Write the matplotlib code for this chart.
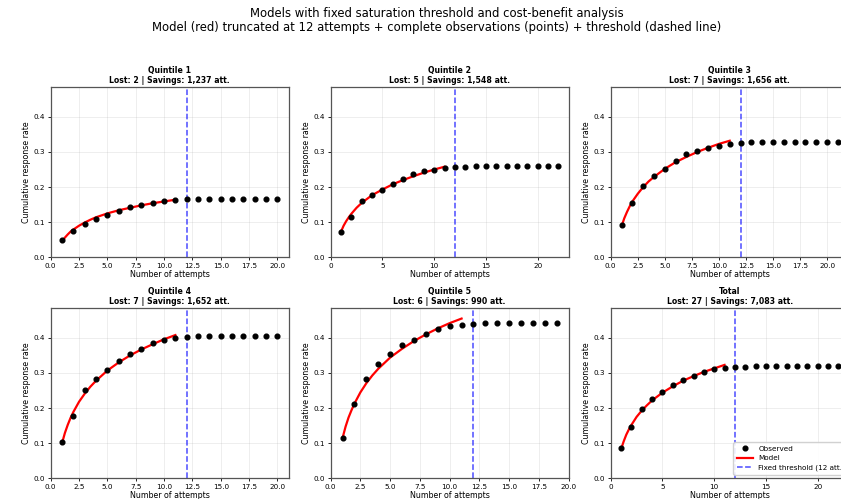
import matplotlib
matplotlib.use("Agg")
import matplotlib.pyplot as plt

# panel titles / cost-benefit info
panel_names = ['Quintile 1', 'Quintile 2', 'Quintile 3', 'Quintile 4', 'Quintile 5', 'Total']
lost = [2, 5, 7, 7, 6, 27]
savings = ['1,237', '1,548', '1,656', '1,652', '990', '7,083']

# observed cumulative response rate (attempt 1..n)
obs_q1 = [0.048, 0.075, 0.094, 0.109, 0.120, 0.133, 0.143, 0.149, 0.155, 0.161, 0.163,
          0.165, 0.165, 0.165, 0.165, 0.165, 0.165, 0.165, 0.165, 0.165]
obs_q2 = [0.072, 0.115, 0.159, 0.178, 0.193, 0.210, 0.223, 0.236, 0.245, 0.250, 0.255,
          0.257, 0.258, 0.259, 0.259, 0.259, 0.259, 0.259, 0.259, 0.259, 0.259, 0.259]
obs_q3 = [0.091, 0.154, 0.203, 0.231, 0.252, 0.275, 0.293, 0.303, 0.312, 0.318, 0.323,
          0.325, 0.327, 0.329, 0.329, 0.329, 0.329, 0.329, 0.329, 0.329, 0.329]
obs_q4 = [0.104, 0.178, 0.251, 0.283, 0.309, 0.335, 0.353, 0.367, 0.384, 0.395, 0.401,
          0.402, 0.405, 0.405, 0.405, 0.405, 0.405, 0.405, 0.405, 0.405]
obs_q5 = [0.115, 0.211, 0.283, 0.326, 0.355, 0.379, 0.395, 0.411, 0.425, 0.434, 0.438,
          0.440, 0.441, 0.443, 0.443, 0.443, 0.443, 0.443, 0.443]
obs_tot = [0.085, 0.146, 0.198, 0.226, 0.245, 0.266, 0.281, 0.292, 0.304, 0.311, 0.315,
           0.317, 0.318, 0.320, 0.320, 0.320, 0.320, 0.320, 0.320, 0.320, 0.320, 0.320]

# model curve (truncated before the threshold)
model_x = [1, 1.25, 1.5, 1.75, 2, 2.5, 3, 3.5, 4, 5, 6, 7, 8, 9, 10, 11]
mod_q1 = [0.045, 0.056, 0.065, 0.073, 0.079, 0.090, 0.099, 0.107, 0.114, 0.125, 0.134,
          0.141, 0.148, 0.154, 0.159, 0.164]
mod_q2 = [0.073, 0.090, 0.103, 0.114, 0.124, 0.141, 0.155, 0.166, 0.177, 0.193, 0.208,
          0.220, 0.231, 0.241, 0.250, 0.258]
mod_q3 = [0.088, 0.111, 0.129, 0.145, 0.159, 0.181, 0.200, 0.216, 0.229, 0.252, 0.271,
          0.286, 0.300, 0.312, 0.323, 0.332]
mod_q4 = [0.100, 0.129, 0.152, 0.172, 0.189, 0.218, 0.241, 0.261, 0.278, 0.307, 0.330,
          0.350, 0.367, 0.382, 0.396, 0.408]
mod_q5 = [0.115, 0.147, 0.173, 0.194, 0.213, 0.245, 0.271, 0.293, 0.312, 0.344, 0.369,
          0.391, 0.410, 0.427, 0.442, 0.455]
mod_tot = [0.083, 0.105, 0.124, 0.139, 0.152, 0.175, 0.193, 0.208, 0.222, 0.244, 0.262,
           0.278, 0.291, 0.303, 0.313, 0.323]

observed = [obs_q1, obs_q2, obs_q3, obs_q4, obs_q5, obs_tot]
models = [mod_q1, mod_q2, mod_q3, mod_q4, mod_q5, mod_tot]
threshold = 12

fig = plt.figure(figsize=(8.41, 4.99), dpi=100)

lefts = [0.0603, 0.3932, 0.7262]
bottoms = [0.4844, 0.0415]
w, h = 0.283, 0.3419

for i in range(6):
    ax = fig.add_axes([lefts[i % 3], bottoms[i // 3], w, h])
    obs = observed[i]
    xs = list(range(1, len(obs) + 1))
    ax.plot(xs, obs, 'o', color='black', ms=3.4, label='Observed', zorder=3)
    ax.plot(model_x, models[i], color='red', lw=1.6, label='Model', zorder=2)
    ax.axvline(threshold, color='blue', ls='--', lw=1.1, alpha=0.7,
               label='Fixed threshold (12 att.)')
    ax.set_xlim(0, len(obs) + 1)
    ax.set_ylim(0, 0.486)
    ax.set_yticks([0.0, 0.1, 0.2, 0.3, 0.4])
    ax.grid(True, alpha=0.25, lw=0.6)
    ax.tick_params(labelsize=5.2, length=2.5, width=0.6, pad=1.5)
    for s in ax.spines.values():
        s.set_color('#555555')
        s.set_linewidth(0.9)
    ax.set_xlabel('Number of attempts', fontsize=5.7, labelpad=1)
    ax.set_ylabel('Cumulative response rate', fontsize=5.7, labelpad=2)
    ax.set_title(f'{panel_names[i]}\nLost: {lost[i]} | Savings: {savings[i]} att.',
                 fontsize=5.6, fontweight='bold', pad=3, linespacing=1.05)
    if i == 5:
        ax.legend(loc='lower right', bbox_to_anchor=(1.015, 0.0), fontsize=5.2,
                  framealpha=0.9, handlelength=2.2, borderpad=0.5, labelspacing=0.45)

fig.text(0.519, 0.985, 'Models with fixed saturation threshold and cost-benefit analysis\n'
         'Model (red) truncated at 12 attempts + complete observations (points) + threshold (dashed line)',
         ha='center', va='top', fontsize=8.4, linespacing=1.1)

fig.savefig('out.png', dpi=100)
